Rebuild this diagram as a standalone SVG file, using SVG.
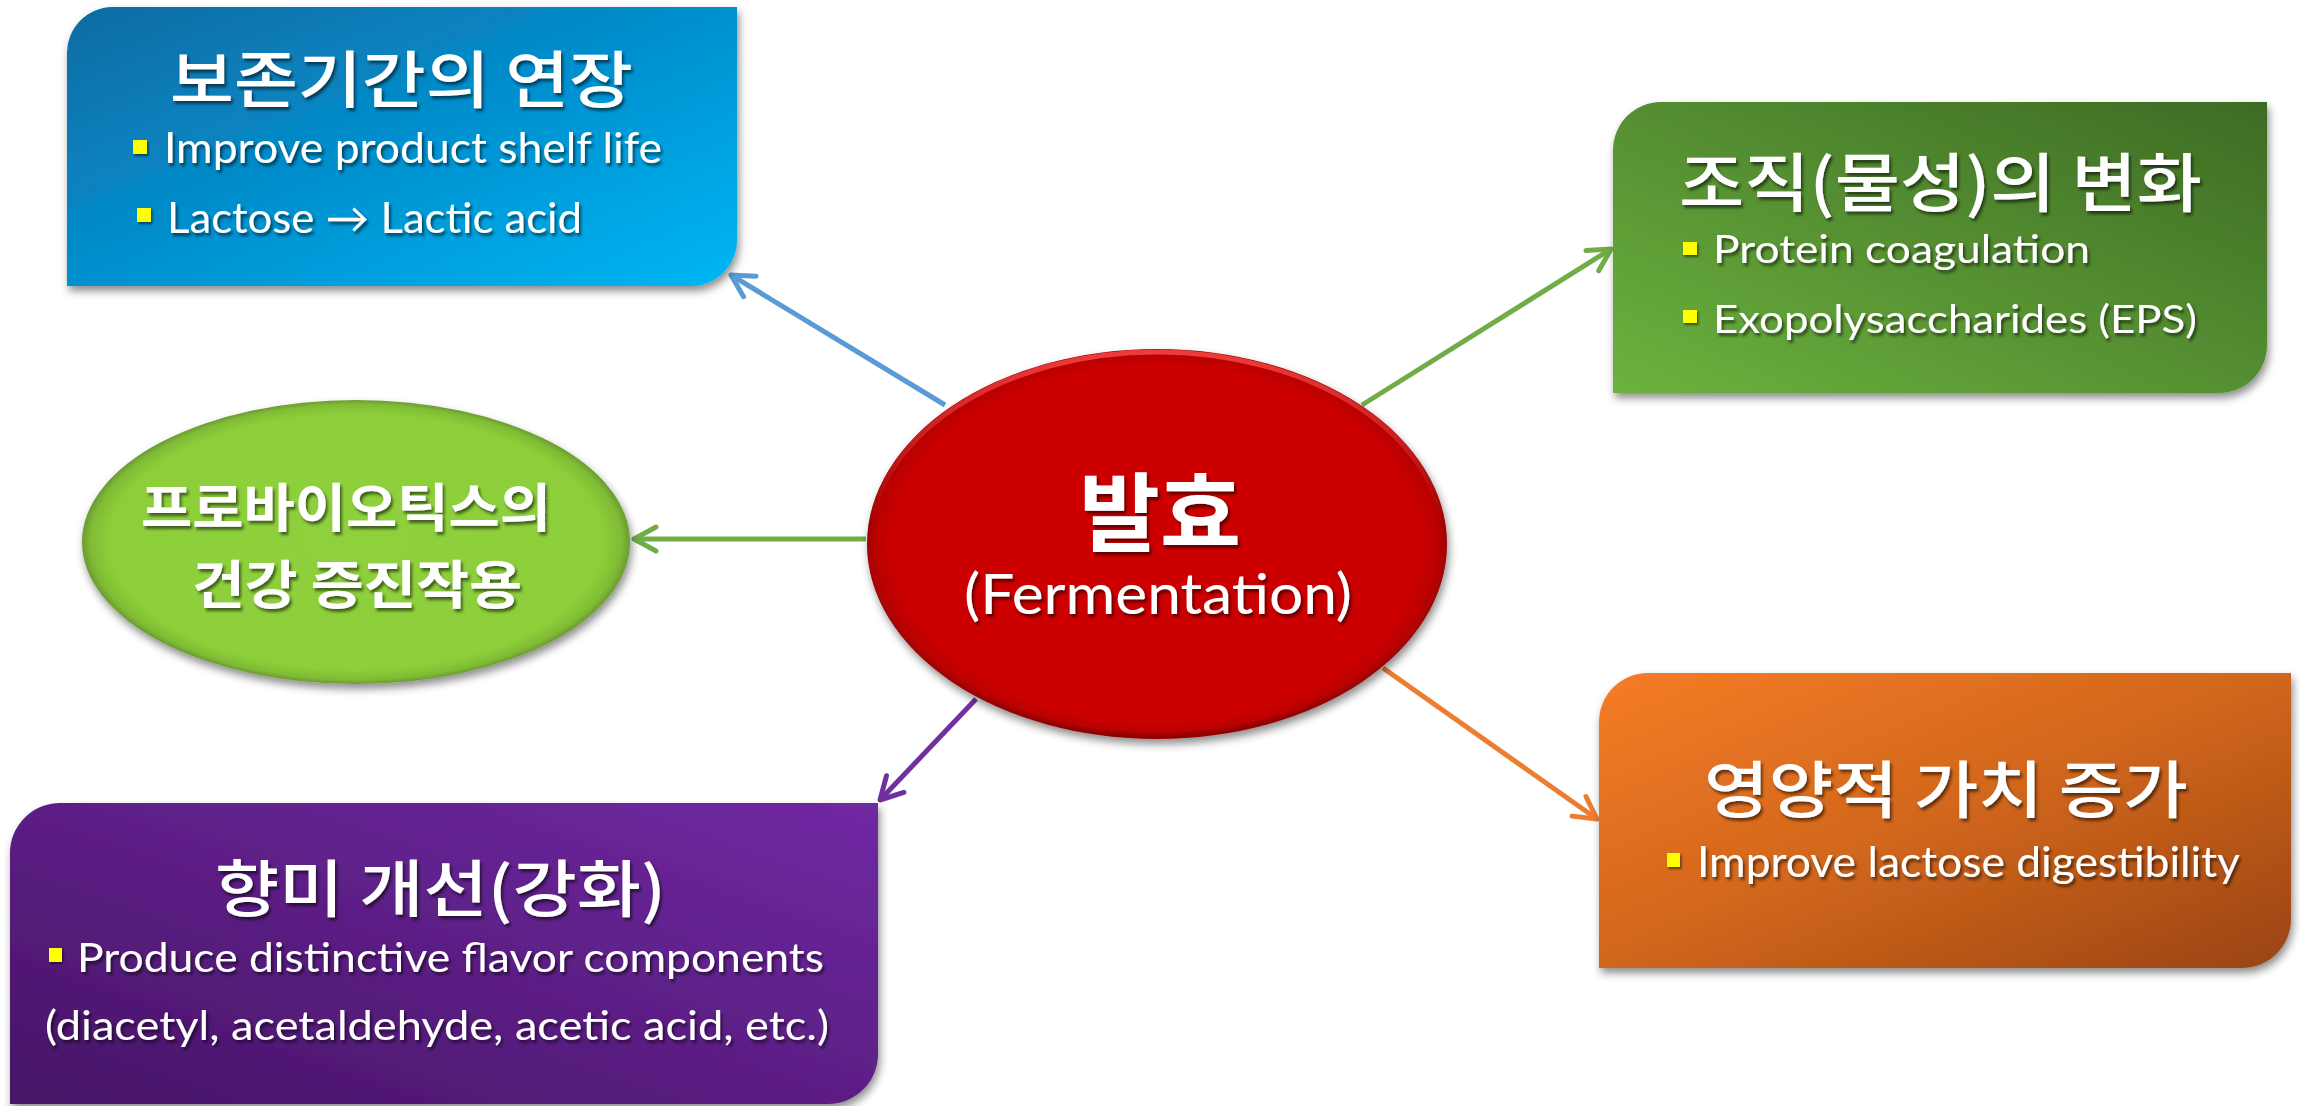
<svg xmlns="http://www.w3.org/2000/svg" width="2300" height="1106" viewBox="0 0 2300 1106">
<defs>
  <style>
    .ko { font-family: "Noto Sans CJK KR", sans-serif; fill: #ffffff; font-weight: 500; }
    .kob { font-family: "Noto Sans CJK KR", sans-serif; fill: #ffffff; font-weight: 700; }
    .en { font-family: Lato, "Liberation Sans", "DejaVu Sans", sans-serif; fill: #ffffff; }
    .bul { fill: #ffff00; }
    .conn { fill: none; stroke-width: 5; }
  </style>
  <filter id="boxShadow" x="-5%" y="-5%" width="112%" height="120%">
    <feDropShadow dx="2" dy="5" stdDeviation="4" flood-color="#000000" flood-opacity="0.45"/>
  </filter>
  <filter id="txtShadow" x="-5%" y="-10%" width="110%" height="130%">
    <feDropShadow dx="2" dy="3" stdDeviation="1.5" flood-color="#000000" flood-opacity="0.55"/>
  </filter>
  <filter id="bulShadow" x="-30%" y="-30%" width="170%" height="170%">
    <feDropShadow dx="1.5" dy="2" stdDeviation="1" flood-color="#000000" flood-opacity="0.5"/>
  </filter>
  <linearGradient id="gBlue" x1="0" y1="0" x2="1" y2="1">
    <stop offset="0" stop-color="#0a6aa2"/>
    <stop offset="0.5" stop-color="#0590cf"/>
    <stop offset="1" stop-color="#00b6f4"/>
  </linearGradient>
  <linearGradient id="gGreen" x1="1" y1="0" x2="0" y2="1">
    <stop offset="0" stop-color="#3d6b24"/>
    <stop offset="1" stop-color="#6cb23e"/>
  </linearGradient>
  <linearGradient id="gOrange" x1="0" y1="0" x2="1" y2="1">
    <stop offset="0" stop-color="#f67c26"/>
    <stop offset="0.5" stop-color="#d0661c"/>
    <stop offset="1" stop-color="#9a4412"/>
  </linearGradient>
  <linearGradient id="gPurple" x1="1" y1="0" x2="0" y2="1">
    <stop offset="0" stop-color="#7029a3"/>
    <stop offset="1" stop-color="#471466"/>
  </linearGradient>
  <radialGradient id="gRed" cx="0.5" cy="0.5" r="0.5">
    <stop offset="0" stop-color="#cc0505"/>
    <stop offset="0.9" stop-color="#cc0505"/>
    <stop offset="0.97" stop-color="#bb0404"/>
    <stop offset="1" stop-color="#9a0000"/>
  </radialGradient>
  <linearGradient id="gRedRim" x1="0" y1="0" x2="0" y2="1">
    <stop offset="0" stop-color="#ff4a4a" stop-opacity="0.8"/>
    <stop offset="0.45" stop-color="#ff4a4a" stop-opacity="0"/>
    <stop offset="1" stop-color="#600000" stop-opacity="0.3"/>
  </linearGradient>
  <radialGradient id="gLG" cx="0.5" cy="0.5" r="0.5">
    <stop offset="0" stop-color="#8ed13c"/>
    <stop offset="0.9" stop-color="#8ccf3a"/>
    <stop offset="0.97" stop-color="#7fbb34"/>
    <stop offset="1" stop-color="#6b9a33"/>
  </radialGradient>
  <marker id="aBlue" markerUnits="userSpaceOnUse" viewBox="-27 -17 32 34" refX="0" refY="0" markerWidth="32" markerHeight="34" orient="auto">
    <path d="M-22,-12 L0,0 L-22,12" fill="none" stroke="#5b9bd5" stroke-width="5" stroke-linecap="round" stroke-linejoin="round"/>
  </marker>
  <marker id="aGreen" markerUnits="userSpaceOnUse" viewBox="-27 -17 32 34" refX="0" refY="0" markerWidth="32" markerHeight="34" orient="auto">
    <path d="M-22,-12 L0,0 L-22,12" fill="none" stroke="#70ad47" stroke-width="5" stroke-linecap="round" stroke-linejoin="round"/>
  </marker>
  <marker id="aPurple" markerUnits="userSpaceOnUse" viewBox="-27 -17 32 34" refX="0" refY="0" markerWidth="32" markerHeight="34" orient="auto">
    <path d="M-22,-12 L0,0 L-22,12" fill="none" stroke="#7030a0" stroke-width="5" stroke-linecap="round" stroke-linejoin="round"/>
  </marker>
  <marker id="aOrange" markerUnits="userSpaceOnUse" viewBox="-27 -17 32 34" refX="0" refY="0" markerWidth="32" markerHeight="34" orient="auto">
    <path d="M-22,-12 L0,0 L-22,12" fill="none" stroke="#ed7d31" stroke-width="5" stroke-linecap="round" stroke-linejoin="round"/>
  </marker>
</defs>
<rect x="0" y="0" width="2300" height="1106" fill="#ffffff"/>

<g id="connectors">
  <line class="conn" x1="945" y1="405" x2="731" y2="275" stroke="#5b9bd5" marker-end="url(#aBlue)"/>
  <line class="conn" x1="1362" y1="405" x2="1611" y2="249" stroke="#70ad47" marker-end="url(#aGreen)"/>
  <line class="conn" x1="866" y1="539" x2="634" y2="539" stroke="#70ad47" marker-end="url(#aGreen)"/>
  <line class="conn" x1="976" y1="699" x2="880" y2="800" stroke="#7030a0" marker-end="url(#aPurple)"/>
  <line class="conn" x1="1383" y1="668" x2="1597" y2="819" stroke="#ed7d31" marker-end="url(#aOrange)"/>
</g>

<g id="node-shelf-life">
  <path d="M112,7 H737 V240 A46,46 0 0 1 691,286 H67 V53 A46,46 0 0 1 112,7 Z" fill="url(#gBlue)" filter="url(#boxShadow)"/>
  <text class="ko" x="170" y="103" font-size="62" textLength="463" lengthAdjust="spacingAndGlyphs" filter="url(#txtShadow)">보존기간의 연장</text>
  <rect class="bul" x="133" y="140" width="14" height="14" filter="url(#bulShadow)"/>
  <text class="en" x="164" y="163" font-size="42" textLength="498" lengthAdjust="spacingAndGlyphs" filter="url(#txtShadow)">Improve product shelf life</text>
  <rect class="bul" x="137" y="208" width="14" height="14" filter="url(#bulShadow)"/>
  <text class="en" x="167" y="233" font-size="42" textLength="415" lengthAdjust="spacingAndGlyphs" filter="url(#txtShadow)">Lactose → Lactic acid</text>
</g>

<g id="node-texture">
  <path d="M1661,102 H2267 V345 A48,48 0 0 1 2219,393 H1613 V150 A48,48 0 0 1 1661,102 Z" fill="url(#gGreen)" filter="url(#boxShadow)"/>
  <text class="ko" x="1679" y="206" font-size="64" textLength="523" lengthAdjust="spacingAndGlyphs" filter="url(#txtShadow)">조직(물성)의 변화</text>
  <rect class="bul" x="1683" y="242" width="14" height="13" filter="url(#bulShadow)"/>
  <text class="en" x="1713" y="263" font-size="38" textLength="377" lengthAdjust="spacingAndGlyphs" filter="url(#txtShadow)">Protein coagulation</text>
  <rect class="bul" x="1683" y="310" width="14" height="13" filter="url(#bulShadow)"/>
  <text class="en" x="1713" y="333" font-size="38" textLength="484" lengthAdjust="spacingAndGlyphs" filter="url(#txtShadow)">Exopolysaccharides (EPS)</text>
</g>

<g id="node-probiotics">
  <ellipse cx="356" cy="542" rx="274" ry="142" fill="url(#gLG)" filter="url(#boxShadow)"/>
  <text class="kob" x="141" y="527" font-size="52" textLength="410" lengthAdjust="spacingAndGlyphs" filter="url(#txtShadow)">프로바이오틱스의</text>
  <text class="kob" x="192" y="604" font-size="52" textLength="330" lengthAdjust="spacingAndGlyphs" filter="url(#txtShadow)">건강 증진작용</text>
</g>

<g id="node-fermentation">
  <ellipse cx="1157" cy="544" rx="290" ry="195" fill="url(#gRed)" filter="url(#boxShadow)"/>
  <ellipse cx="1157" cy="544" rx="287" ry="192" fill="none" stroke="url(#gRedRim)" stroke-width="5"/>
  <text class="kob" x="1079" y="545" font-size="86" textLength="162" lengthAdjust="spacingAndGlyphs" filter="url(#txtShadow)">발효</text>
  <text class="en" x="964" y="614" font-size="56" textLength="388" lengthAdjust="spacingAndGlyphs" filter="url(#txtShadow)">(Fermentation)</text>
</g>

<g id="node-flavor">
  <path d="M60,803 H878 V1054 A50,50 0 0 1 828,1104 H10 V853 A50,50 0 0 1 60,803 Z" fill="url(#gPurple)" filter="url(#boxShadow)"/>
  <text class="ko" x="215" y="912" font-size="62" textLength="451" lengthAdjust="spacingAndGlyphs" filter="url(#txtShadow)">향미 개선(강화)</text>
  <rect class="bul" x="49" y="948" width="13" height="14" filter="url(#bulShadow)"/>
  <text class="en" x="77" y="972" font-size="41" textLength="747" lengthAdjust="spacingAndGlyphs" filter="url(#txtShadow)">Produce distinctive flavor components</text>
  <text class="en" x="45" y="1040" font-size="41" textLength="784" lengthAdjust="spacingAndGlyphs" filter="url(#txtShadow)">(diacetyl, acetaldehyde, acetic acid, etc.)</text>
</g>

<g id="node-nutrition">
  <path d="M1648,673 H2291 V919 A49,49 0 0 1 2242,968 H1599 V722 A49,49 0 0 1 1648,673 Z" fill="url(#gOrange)" filter="url(#boxShadow)"/>
  <text class="ko" x="1704" y="813" font-size="62" textLength="484" lengthAdjust="spacingAndGlyphs" filter="url(#txtShadow)">영양적 가치 증가</text>
  <rect class="bul" x="1667" y="853" width="13" height="14" filter="url(#bulShadow)"/>
  <text class="en" x="1697" y="877" font-size="42" textLength="543" lengthAdjust="spacingAndGlyphs" filter="url(#txtShadow)">Improve lactose digestibility</text>
</g>
</svg>
